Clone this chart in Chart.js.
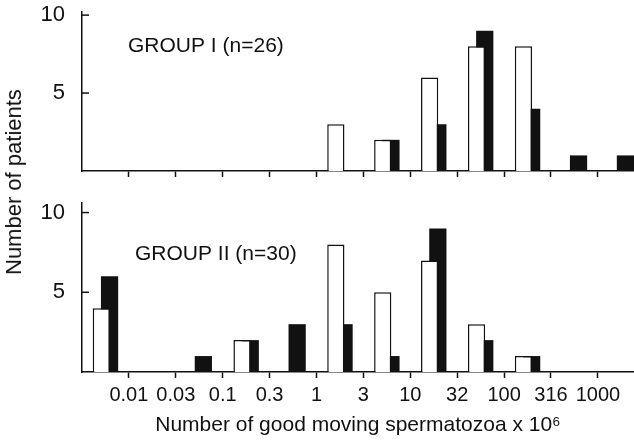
<!DOCTYPE html>
<html>
<head>
<meta charset="utf-8">
<script src="https://cdn.jsdelivr.net/npm/chart.js@4"></script>
<style>
  body { margin: 0; background: #fff; width: 634px; height: 441px; overflow: hidden; position: relative; }
  canvas { position: absolute; left: 0; }
  #top { top: 0; }
  #bottom { top: 195px; }
  /* one title shared by both panels */
  #ytitle {
    position: absolute; left: 14px; top: 182px;
    transform: translate(-50%, -50%) rotate(-90deg);
    white-space: nowrap; font: 22px "Liberation Sans", Arial, sans-serif; color: #111;
  }
</style>
</head>
<body>
<canvas id="top" width="634" height="195"></canvas>
<canvas id="bottom" width="634" height="246"></canvas>
<div id="ytitle">Number of patients</div>
<script>
// edges between the histogram bins (bins: <0.01, 0.01-0.03, ... , 316-1000, >1000)
var binEdges = ['0.01', '0.03', '0.1', '0.3', '1', '3', '10', '32', '100', '316', '1000']

// patients per bin, open bars and filled bars
var group1Open   = [0, 0, 0, 0, 0, 3, 2, 6, 8, 8, 0, 0]
var group1Filled = [0, 0, 0, 0, 0, 0, 2, 3, 9, 4, 1, 1]
var group2Open   = [4, 0, 0, 2, 0, 8, 5, 7, 3, 1, 0, 0]
var group2Filled = [6, 0, 1, 2, 3, 3, 1, 9, 2, 1, 0, 0]

var INK = '#111'
var SANS = '"Liberation Sans", Arial, sans-serif'

// y ticks of the figure point inwards, and each panel carries its group name
var panelDecor = {
  id: 'panelDecor',
  afterDraw: function(chart) {
    var ctx = chart.ctx
    var y = chart.scales.y
    var left = chart.chartArea.left
    var o = chart.options.plugins.panelDecor
    ctx.save()
    ctx.strokeStyle = INK
    ctx.lineWidth = 1.5
    y.ticks.forEach(function(t) {
      var py = y.getPixelForValue(t.value)
      ctx.beginPath()
      ctx.moveTo(left, py)
      ctx.lineTo(left + 7, py)
      ctx.stroke()
    })
    ctx.fillStyle = INK
    ctx.font = '21px ' + SANS
    ctx.textBaseline = 'middle'
    ctx.fillText(o.text, left + o.dx, y.getPixelForValue(o.at))
    ctx.restore()
  }
}

function toPoints(values) {
  return values.map(function(v, i) { return {x: i, y: v} })
}

function makePanel(id, open, filled, opts) {
  var ctx = document.getElementById(id).getContext('2d')
  return new Chart(ctx, {
    type: 'bar',
    data: {
      datasets: [{
        // first dataset is drawn last, so the open bar sits in front
        data: toPoints(open),
        backgroundColor: '#fff',
        borderColor: INK,
        borderWidth: 1.5
      }, {
        data: toPoints(filled),
        backgroundColor: INK,
        borderWidth: 0
      }]
    },
    options: {
      responsive: false,
      animation: false,
      categoryPercentage: 0.35,
      barPercentage: 2.1,
      layout: { padding: { top: opts.top, left: 0, right: 0, bottom: 0 } },
      plugins: {
        legend: { display: false },
        tooltip: { enabled: false },
        panelDecor: { text: opts.label, dx: opts.labelDx, at: opts.labelAt }
      },
      scales: {
        x: {
          type: 'linear',
          offset: false,
          min: -0.5,
          max: 11.27,
          afterBuildTicks: function(s) {
            s.ticks = binEdges.map(function(e, i) { return {value: i + 0.5} })
          },
          ticks: {
            display: opts.showLabels,
            autoSkip: false,
            maxRotation: 0,
            padding: 5,
            color: INK,
            font: { family: SANS, size: 20 },
            callback: function(v, i) { return binEdges[i] }
          },
          grid: { drawOnChartArea: false, offset: false, tickLength: 6, tickWidth: 1.5, tickColor: INK },
          border: { color: INK, width: 1.5 },
          title: {
            display: opts.showLabels,
            text: 'Number of good moving spermatozoa x 10\u2076',
            color: INK,
            font: { family: SANS, size: 21 },
            padding: { top: 0, bottom: 3 }
          },
          afterFit: function(s) {
            s.height = opts.xHeight
            s.paddingLeft = 0
            s.paddingRight = 0
          }
        },
        y: {
          min: 0,
          max: opts.yMax,
          afterBuildTicks: function(s) { s.ticks = [{value: 5}, {value: 10}] },
          ticks: { padding: 17, color: INK, font: { family: SANS, size: 22 } },
          grid: { drawOnChartArea: false, drawTicks: false },
          border: { color: INK, width: 1.5 },
          afterFit: function(s) {
            s.width = 82
            s.paddingTop = 0
            s.paddingBottom = 0
          }
        }
      }
    },
    plugins: [panelDecor]
  })
}

makePanel('top', group1Open, group1Filled, {
  top: 12, yMax: 10.2, xHeight: 24, showLabels: false,
  label: 'GROUP I (n=26)', labelDx: 46, labelAt: 8.0
})

makePanel('bottom', group2Open, group2Filled, {
  top: 8, yMax: 10.6, xHeight: 69, showLabels: true,
  label: 'GROUP II (n=30)', labelDx: 53, labelAt: 7.4
})
</script>
</body>
</html>
